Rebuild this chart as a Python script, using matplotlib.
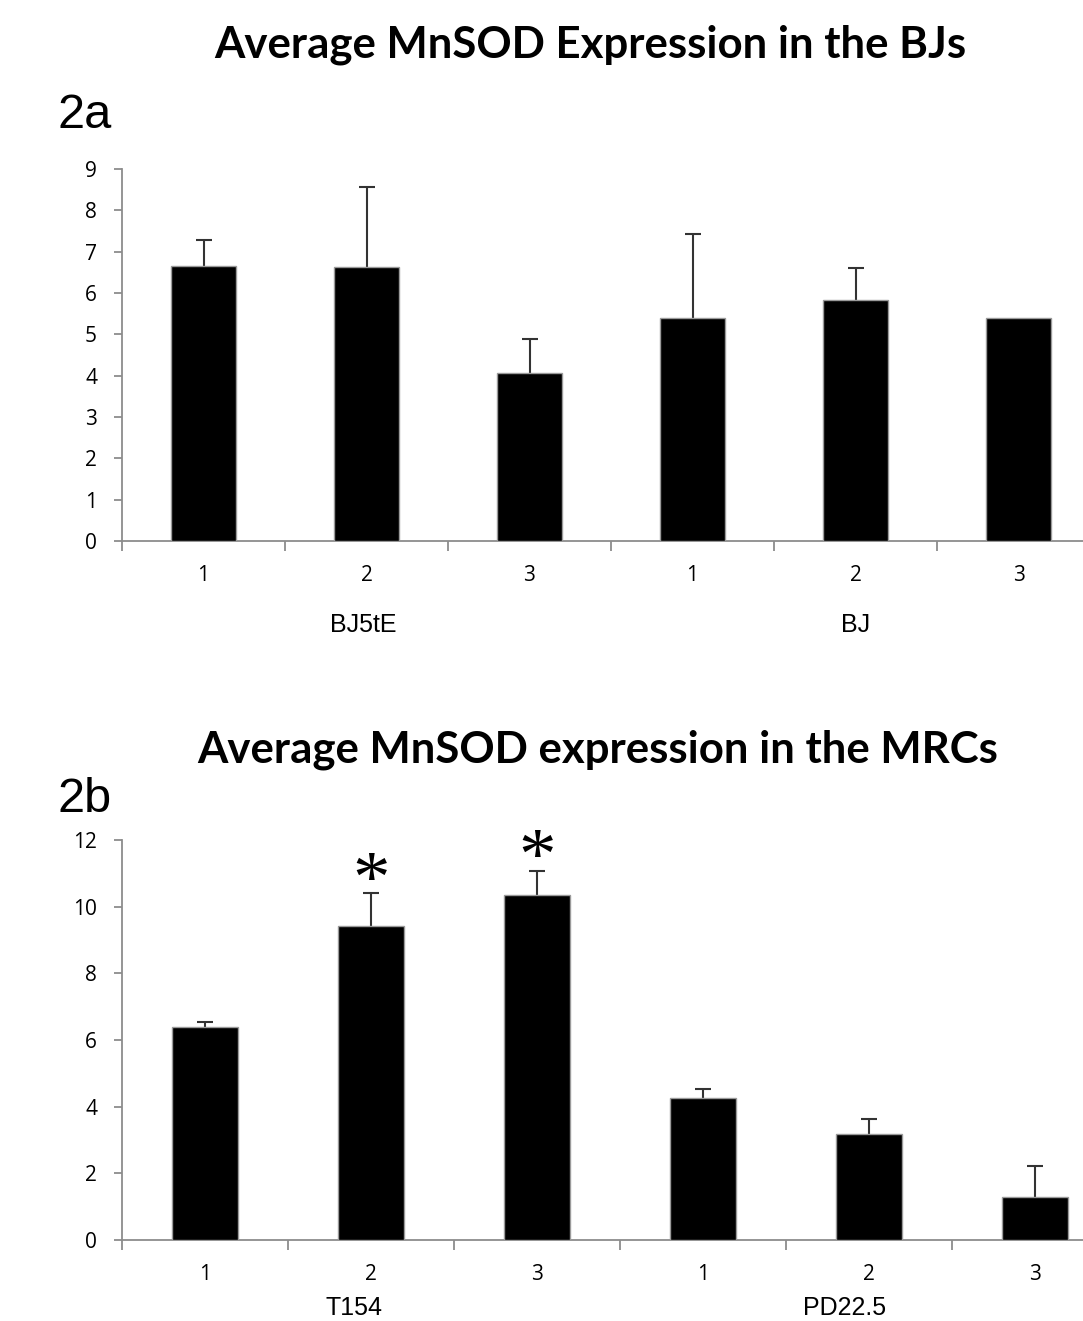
import numpy as np
import matplotlib.pyplot as plt

# Data
bj_groups = ['BJ5tE', 'BJ']
bj_ticks = ['1', '2', '3', '1', '2', '3']
bj_means = [6.65, 6.63, 4.06, 5.40, 5.83, 5.40]
bj_err = [0.63, 1.93, 0.83, 2.03, 0.78, 0.0]

mrc_groups = ['T154', 'PD22.5']
mrc_ticks = ['1', '2', '3', '1', '2', '3']
mrc_means = [6.39, 9.42, 10.36, 4.27, 3.17, 1.28]
mrc_err = [0.16, 0.98, 0.71, 0.26, 0.45, 0.95]
mrc_signif = [False, True, True, False, False, False]

W, H = 1083, 1321
fig = plt.figure(figsize=(W / 100, H / 100), dpi=100)

calibri = ['Lato', 'DejaVu Sans']
tickfont = ['Open Sans', 'DejaVu Sans']
arial = ['Liberation Sans', 'DejaVu Sans']
axis_grey = '#8c8c8c'


def draw_panel(ax, means, err, ticks, groups, group_pos, group_y, ymax, ystep):
    x = np.arange(len(means))
    # bars sit on top of the error bars so only the upper half shows
    ax.bar(x, means, width=0.4, color='black', edgecolor='#9a9a9a', linewidth=1.0, zorder=3)
    e = np.array(err)
    has = e > 0
    ax.errorbar(x[has], np.array(means)[has], yerr=e[has], fmt='none',
                ecolor='#333333', elinewidth=1.5, capsize=6, capthick=1.5, zorder=2)
    ax.set_xlim(-0.5, len(means) - 0.5)
    ax.set_ylim(0, ymax)
    ax.set_yticks(np.arange(0, ymax + 0.01, ystep))
    ax.set_xticks(np.arange(-0.5, len(means), 1.0))
    ax.set_xticklabels([])
    ax.set_xticks(x, minor=True)
    ax.set_xticklabels(ticks, minor=True, family=tickfont, fontsize=15)
    for s in ['top', 'right']:
        ax.spines[s].set_visible(False)
    for s in ['left', 'bottom']:
        ax.spines[s].set_color(axis_grey)
        ax.spines[s].set_linewidth(1.3)
    ax.tick_params(axis='x', which='major', direction='out', length=7, width=1.3, color=axis_grey)
    ax.tick_params(axis='x', which='minor', length=0, pad=17)
    ax.tick_params(axis='y', direction='out', length=6, width=1.3, color=axis_grey, pad=12)
    for lab in ax.get_yticklabels():
        lab.set_family(tickfont)
        lab.set_fontsize(15)
    for g, p in zip(groups, group_pos):
        ax.text(p, group_y, g, transform=ax.get_xaxis_transform(), ha='center', va='center',
                family=arial, fontsize=18)


# Panel 2a
ax1 = fig.add_axes([122 / W, 1 - 541 / H, (1100 - 122) / W, (541 - 169) / H])
draw_panel(ax1, bj_means, bj_err, bj_ticks, bj_groups, [0.98, 4.0], -0.226, 9, 1)
fig.text(590 / W, 1 - 45 / H, 'Average MnSOD Expression in the BJs', ha='center', va='center',
         family=calibri, fontweight='bold', fontsize=31.5)
fig.text(58 / W, 1 - 115 / H, '2a', ha='left', va='center', family=arial, fontsize=35)

# Panel 2b
ax2 = fig.add_axes([122 / W, 1 - 1240 / H, (1118 - 122) / W, (1240 - 840) / H])
draw_panel(ax2, mrc_means, mrc_err, mrc_ticks, mrc_groups, [0.9, 3.85], -0.17, 12, 2)
for i, s in enumerate(mrc_signif):
    if s:
        ax2.text(i, mrc_means[i] + mrc_err[i] + 0.28, '*', ha='center', va='center',
                 family=['Liberation Serif', 'DejaVu Serif'], fontsize=54)
fig.text(598 / W, 1 - 750 / H, 'Average MnSOD expression in the MRCs', ha='center', va='center',
         family=calibri, fontweight='bold', fontsize=31.5)
fig.text(58 / W, 1 - 800 / H, '2b', ha='left', va='center', family=arial, fontsize=35)

fig.savefig('out.png', dpi=100)
